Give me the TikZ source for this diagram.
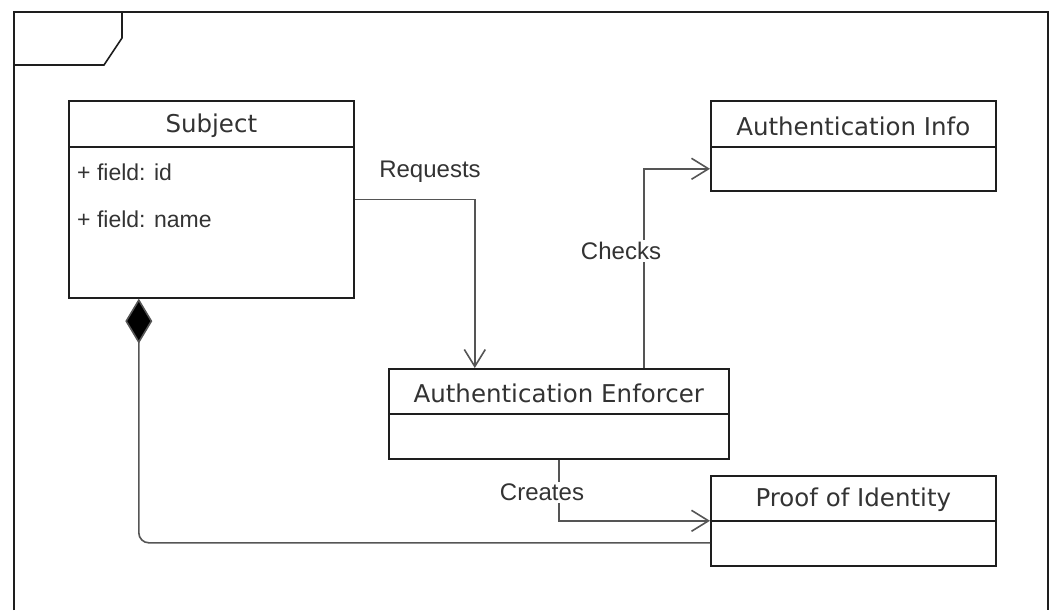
\documentclass[tikz,border=0pt]{standalone}
\usepackage{fontspec}
\setmainfont{DejaVu Sans}
\newfontfamily\arialfont{Liberation Sans}
\usetikzlibrary{arrows.meta}
\definecolor{boxline}{HTML}{1E1E1E}
\definecolor{connline}{HTML}{555555}
\definecolor{txt}{HTML}{333333}

\begin{document}
\begin{tikzpicture}[x=1pt,y=-1pt,
    classbox/.style={draw=boxline,line width=1.6pt,anchor=north west,inner sep=0pt},
    classname/.style={text=txt,font=\fontsize{24.5}{28}\selectfont},
    attr/.style={text=txt,font=\arialfont\fontsize{23}{27}\selectfont,anchor=west,inner sep=0pt},
    conn/.style={draw=connline,line width=1.6pt},
    openarrow/.style={-{Straight Barb[length=17pt,width=21pt]}},
    rellabel/.style={text=txt,font=\arialfont\fontsize{24}{28}\selectfont,fill=white,inner sep=2pt}]
        \useasboundingbox (0,0) rectangle (1054,610);
        % frame with its tab
        \draw[boxline,line width=1.6pt] (14,610) -- (14,12) -- (1048,12) -- (1048,610);
        \draw[boxline,line width=1.6pt] (14,65) -- (104,65) -- (122,38) -- (122,12);

        % classes
        \node[classbox,minimum width=285pt,minimum height=197pt] (subject) at (68,100) {};
        \node[classname] (subjectname) at ([yshift=-26pt]subject.north) {Subject};
        \draw[boxline,line width=1.6pt] ([yshift=-47pt]subject.north west) -- ([yshift=-47pt]subject.north east);
        \node[attr] (fieldid) at (77,172) {+ field: id};
        \node[attr] (fieldname) at (77,219) {+ field: name};

        \node[classbox,minimum width=285pt,minimum height=90pt] (authinfo) at (710,100) {};
        \node[classname] (authinfoname) at ([yshift=-26pt]authinfo.north) {Authentication Info};
        \draw[boxline,line width=1.6pt] ([yshift=-47pt]authinfo.north west) -- ([yshift=-47pt]authinfo.north east);

        \node[classbox,minimum width=340pt,minimum height=90pt] (enforcer) at (388,368) {};
        \node[classname] (enforcername) at ([yshift=-25pt]enforcer.north) {Authentication Enforcer};
        \draw[boxline,line width=1.6pt] ([yshift=-46pt]enforcer.north west) -- ([yshift=-46pt]enforcer.north east);

        \node[classbox,minimum width=285pt,minimum height=90pt] (proof) at (710,475) {};
        \node[classname] (proofname) at ([yshift=-25pt]proof.north) {Proof of Identity};
        \draw[boxline,line width=1.6pt] ([yshift=-46pt]proof.north west) -- ([yshift=-46pt]proof.north east);

        % relations
        \draw[conn,openarrow] (subject.east) -| ([xshift=-84pt]enforcer.north);
        \node[rellabel] (requests) at (430,172) {Requests};

        \draw[conn,openarrow] ([xshift=85pt]enforcer.north) |- ([yshift=-23pt]authinfo.west);
        \node[rellabel] (checks) at (621,251) {Checks};

        \draw[conn,openarrow] (enforcer.south) |- (proof.west);
        \node[rellabel] (creates) at (542,492) {Creates};

        \draw[conn,rounded corners=10pt,{Diamond[length=45pt,width=27pt,fill=black]}-]
            ([xshift=-72.5pt]subject.south) |- ([yshift=-22pt]proof.west);
\end{tikzpicture}
\end{document}
